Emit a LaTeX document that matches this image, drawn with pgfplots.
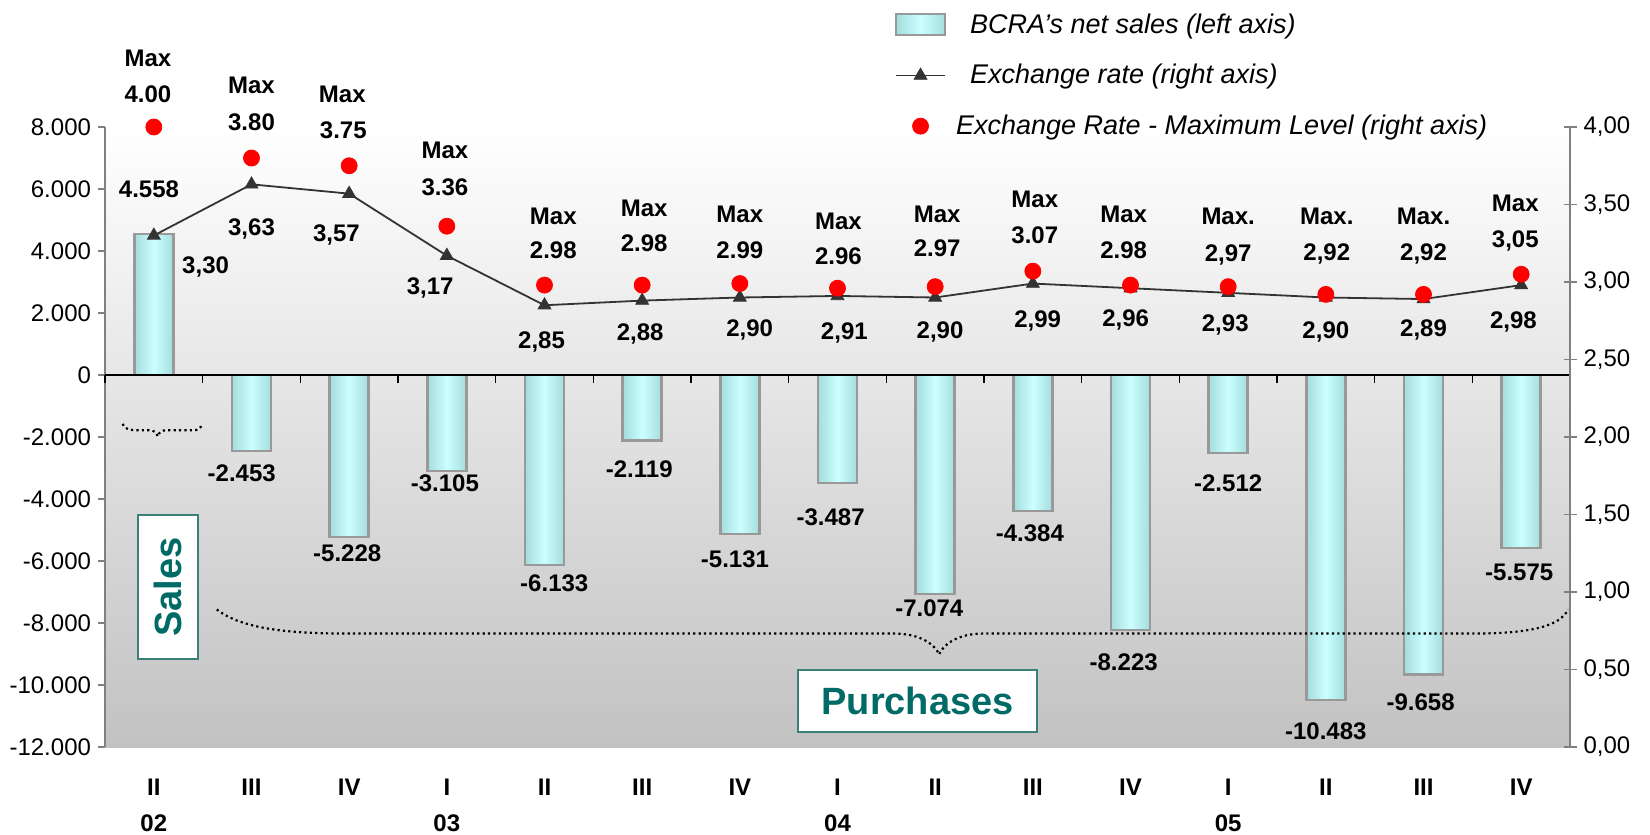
\documentclass[border=0pt]{standalone}
\usepackage{pgfplots}
\pgfplotsset{compat=1.18}
\usepackage{fontspec}
\setmainfont{Liberation Sans}
\definecolor{barc}{HTML}{CCFFFF}
\definecolor{bare}{HTML}{A4DCDC}
\definecolor{barb}{HTML}{999999}
\definecolor{tealt}{HTML}{006B66}
\definecolor{tealb}{HTML}{3A8078}
\definecolor{bgbot}{HTML}{C2C2C2}
\definecolor{axgray}{HTML}{808080}
\definecolor{linec}{HTML}{333333}
\tikzset{dl/.style={font=\fontsize{12bp}{14bp}\selectfont\bfseries, inner sep=0pt}}
\pgfplotsset{barst/.style={ybar, bar width=19.5bp, bar shift=0pt, draw=barb, line width=1.2bp,
  left color=bare, right color=bare, middle color=barc}}
\begin{document}
\begin{tikzpicture}
\begin{axis}[
  at={(0,0)}, anchor=south west,
  scale only axis, width=732.5bp, height=310bp,
  xmin=-0.5, xmax=14.5, ymin=-12000, ymax=8000,
  axis y line*=left, axis x line*=bottom,
  x axis line style={draw=none},
  xtick={0,...,14},
  xticklabels={II\\02,III,IV,I\\03,II,III,IV,I\\04,II,III,IV,I\\05,II,III,IV},
  xtick style={draw=none},
  xticklabel style={font=\fontsize{12bp}{18.4bp}\selectfont\bfseries, align=center, yshift=-8.8bp},
  ytick={-12000,-10000,...,8000},
  y axis line style={axgray, line width=0.75bp},
  ytick style={axgray, line width=0.75bp},
  tick align=outside, major tick length=3.5bp,
  scaled y ticks=false,
  yticklabel style={font=\fontsize{12bp}{14bp}\selectfont, /pgf/number format/1000 sep={.}},
  /pgf/number format/assume math mode=true,
  axis background/.style={top color=white, bottom color=bgbot},
  clip=false,
]
\addplot[barst] coordinates {(0,4558)};
\addplot[barst] coordinates {(1,-2453)};
\addplot[barst] coordinates {(2,-5228)};
\addplot[barst] coordinates {(3,-3105)};
\addplot[barst] coordinates {(4,-6133)};
\addplot[barst] coordinates {(5,-2119)};
\addplot[barst] coordinates {(6,-5131)};
\addplot[barst] coordinates {(7,-3487)};
\addplot[barst] coordinates {(8,-7074)};
\addplot[barst] coordinates {(9,-4384)};
\addplot[barst] coordinates {(10,-8223)};
\addplot[barst] coordinates {(11,-2512)};
\addplot[barst] coordinates {(12,-10483)};
\addplot[barst] coordinates {(13,-9658)};
\addplot[barst] coordinates {(14,-5575)};
\draw[black, line width=0.8bp] (axis cs:-0.5,0) -- (axis cs:14.5,0);
\pgfplotsinvokeforeach{-0.5,0.5,1.5,2.5,3.5,4.5,5.5,6.5,7.5,8.5,9.5,10.5,11.5,12.5,13.5,14.5}{
  \draw[black, line width=0.8bp] (axis cs:#1,0) -- ++(0pt,-4bp);}
% bar labels
\node[dl] at (axis cs:-0.05,5995) {4.558};
\node[dl] at (axis cs:0.9,-3168) {-2.453};
\node[dl] at (axis cs:1.98,-5738) {-5.228};
\node[dl] at (axis cs:2.98,-3506) {-3.105};
\node[dl] at (axis cs:4.1,-6718) {-6.133};
\node[dl] at (axis cs:4.97,-3033) {-2.119};
\node[dl] at (axis cs:5.95,-5940) {-5.131};
\node[dl] at (axis cs:6.93,-4588) {-3.487};
\node[dl] at (axis cs:7.94,-7529) {-7.074};
\node[dl] at (axis cs:8.97,-5095) {-4.384};
\node[dl] at (axis cs:9.93,-9254) {-8.223};
\node[dl] at (axis cs:11,-3506) {-2.512};
\node[dl] at (axis cs:12,-11485) {-10.483};
\node[dl] at (axis cs:12.97,-10572) {-9.658};
\node[dl] at (axis cs:13.98,-6380) {-5.575};
% exchange rate labels
\node[dl] at (axis cs:0.53,3493) {3,30};
\node[dl] at (axis cs:1,4710) {3,63};
\node[dl] at (axis cs:1.87,4507) {3,57};
\node[dl] at (axis cs:2.83,2816) {3,17};
\node[dl] at (axis cs:3.97,1058) {2,85};
\node[dl] at (axis cs:4.98,1329) {2,88};
\node[dl] at (axis cs:6.1,1464) {2,90};
\node[dl] at (axis cs:7.07,1363) {2,91};
\node[dl] at (axis cs:8.05,1396) {2,90};
\node[dl] at (axis cs:9.05,1734) {2,99};
\node[dl] at (axis cs:9.95,1768) {2,96};
\node[dl] at (axis cs:10.97,1599) {2,93};
\node[dl] at (axis cs:12,1396) {2,90};
\node[dl] at (axis cs:13,1464) {2,89};
\node[dl] at (axis cs:13.92,1701) {2,98};
% max labels
\node[dl] at (axis cs:-0.06,10221) {Max};
\node[dl] at (axis cs:-0.06,9071) {4.00};
\node[dl] at (axis cs:1,9342) {Max};
\node[dl] at (axis cs:1,8158) {3.80};
\node[dl] at (axis cs:1.93,9037) {Max};
\node[dl] at (axis cs:1.94,7888) {3.75};
\node[dl] at (axis cs:2.98,7245) {Max};
\node[dl] at (axis cs:2.98,6062) {3.36};
\node[dl] at (axis cs:4.09,5115) {Max};
\node[dl] at (axis cs:4.09,4034) {2.98};
\node[dl] at (axis cs:5.02,5386) {Max};
\node[dl] at (axis cs:5.02,4236) {2.98};
\node[dl] at (axis cs:6,5183) {Max};
\node[dl] at (axis cs:6,4034) {2.99};
\node[dl] at (axis cs:7.01,4946) {Max};
\node[dl] at (axis cs:7.01,3831) {2.96};
\node[dl] at (axis cs:8.02,5183) {Max};
\node[dl] at (axis cs:8.02,4101) {2.97};
\node[dl] at (axis cs:9.02,5656) {Max};
\node[dl] at (axis cs:9.02,4507) {3.07};
\node[dl] at (axis cs:9.93,5183) {Max};
\node[dl] at (axis cs:9.93,4034) {2.98};
\node[dl] at (axis cs:11,5115) {Max.};
\node[dl] at (axis cs:11,3864) {2,97};
\node[dl] at (axis cs:12.01,5115) {Max.};
\node[dl] at (axis cs:12.01,3898) {2,92};
\node[dl] at (axis cs:13,5115) {Max.};
\node[dl] at (axis cs:13,3898) {2,92};
\node[dl] at (axis cs:13.94,5521) {Max};
\node[dl] at (axis cs:13.94,4338) {3,05};
% braces
\draw[line width=1.1bp, dash pattern=on 1.1bp off 1.6bp, line cap=butt]
  (axis cs:0.645,-7563) .. controls (axis cs:0.9,-8200) and (axis cs:1.4,-8341) .. (axis cs:1.98,-8341)
  -- (axis cs:7.58,-8341) .. controls (axis cs:7.85,-8341) and (axis cs:8.0,-8700) .. (axis cs:8.04,-9017)
  .. controls (axis cs:8.08,-8700) and (axis cs:8.23,-8341) .. (axis cs:8.49,-8341)
  -- (axis cs:13.51,-8341) .. controls (axis cs:14.1,-8341) and (axis cs:14.4,-8100) .. (axis cs:14.48,-7563);
\draw[line width=1.1bp, dash pattern=on 1.1bp off 1.6bp, line cap=butt]
  (axis cs:-0.32,-1579) .. controls (axis cs:-0.3,-1750) and (axis cs:-0.25,-1782) .. (axis cs:-0.15,-1782)
  -- (axis cs:-0.05,-1782) .. controls (axis cs:0.0,-1782) and (axis cs:0.03,-1850) .. (axis cs:0.04,-1985)
  .. controls (axis cs:0.05,-1850) and (axis cs:0.08,-1782) .. (axis cs:0.13,-1782)
  -- (axis cs:0.4,-1782) .. controls (axis cs:0.45,-1782) and (axis cs:0.48,-1750) .. (axis cs:0.49,-1579);
% boxes
\node[draw=tealb, line width=1bp, fill=white, rotate=90, minimum width=72bp, minimum height=30bp,
  inner sep=0pt, text=tealt, font=\fontsize{19bp}{21bp}\selectfont\bfseries] at (axis cs:0.14,-6836) {Sales};
\node[draw=tealb, line width=1bp, fill=white, minimum width=119.5bp, minimum height=31bp,
  inner sep=0pt, text=tealt, font=\fontsize{19bp}{21bp}\selectfont\bfseries] at (axis cs:7.82,-10522) {Purchases};
\end{axis}
\begin{axis}[
  at={(0,0)}, anchor=south west,
  scale only axis, width=732.5bp, height=310bp,
  xmin=-0.5, xmax=14.5, ymin=0, ymax=4,
  axis y line*=right, axis x line=none,
  ytick={0,0.5,...,4},
  y axis line style={axgray, line width=0.75bp},
  ytick style={axgray, line width=0.75bp},
  ytick align=center, major tick length=6.5bp,
  yticklabel style={font=\fontsize{12bp}{14bp}\selectfont, /pgf/number format/.cd, fixed, fixed zerofill, precision=2, use comma},
  /pgf/number format/assume math mode=true,
  clip=false,
  legend image code/.code={\draw[mark repeat=2,mark phase=2,#1] plot coordinates {(0bp,0bp) (12.25bp,0bp) (24.5bp,0bp)};},
  legend cell align=left,
  legend style={at={(axis description cs:0.539,1.184)}, anchor=north west, draw=none, fill=none,
    font=\fontsize{13.5bp}{16bp}\selectfont\itshape, inner sep=0pt, row sep=14bp,
    nodes={inner sep=0pt},
    /tikz/every odd column/.style={column sep=12bp}},
]
\addlegendimage{legend image code/.code={\draw[left color=bare,right color=bare,middle color=barc,draw=barb,line width=1bp] (0bp,-5.25bp) rectangle (24.5bp,5.25bp);}}
\addlegendentry{BCRA's net sales (left axis)}
\addplot[color=linec, line width=0.9bp, mark=triangle*, mark size=3.7bp, mark options={fill=linec, line width=0.4bp}]
  coordinates {(0,3.30) (1,3.63) (2,3.57) (3,3.17) (4,2.85) (5,2.88) (6,2.90) (7,2.91)
    (8,2.90) (9,2.99) (10,2.96) (11,2.93) (12,2.90) (13,2.89) (14,2.98)};
\addlegendentry{Exchange rate (right axis)}
\addplot[only marks, mark=*, mark size=4bp, mark options={draw=red, fill=red}]
  coordinates {(0,4.00) (1,3.80) (2,3.75) (3,3.36) (4,2.98) (5,2.98) (6,2.99) (7,2.96)
    (8,2.97) (9,3.07) (10,2.98) (11,2.97) (12,2.92) (13,2.92) (14,3.05)};
\addlegendentry{\hspace{-7bp}Exchange Rate - Maximum Level (right axis)}
\end{axis}
\pgfresetboundingbox
\path[use as bounding box] (-52.5bp,-44bp) rectangle (772.5bp,373.5bp);
\end{tikzpicture}
\end{document}
